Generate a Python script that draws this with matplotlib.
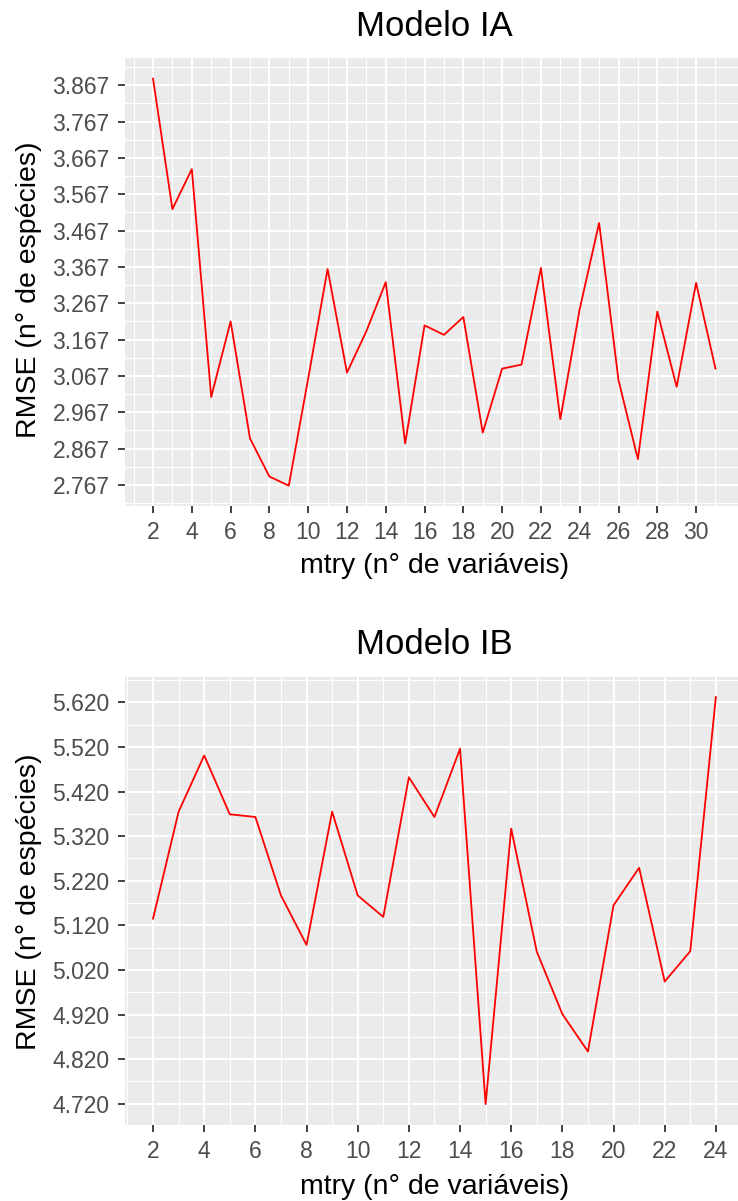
import numpy as np
import matplotlib
matplotlib.use('Agg')
import matplotlib.pyplot as plt

plt.rcParams['font.family'] = ['Liberation Sans', 'DejaVu Sans']

# Modelo IA: RMSE by mtry
mtry_ia = list(range(2, 32))
rmse_ia = [3.885, 3.526, 3.636, 3.009, 3.217, 2.895, 2.790, 2.765, 3.060, 3.361,
           3.076, 3.190, 3.325, 2.881, 3.206, 3.180, 3.229, 2.911, 3.087, 3.098,
           3.364, 2.948, 3.251, 3.488, 3.055, 2.838, 3.244, 3.037, 3.323, 3.087]
ia_xticks = [2, 4, 6, 8, 10, 12, 14, 16, 18, 20, 22, 24, 26, 28, 30]
ia_yticks = [2.767, 2.867, 2.967, 3.067, 3.167, 3.267, 3.367, 3.467,
             3.567, 3.667, 3.767, 3.867]

# Modelo IB: RMSE by mtry
mtry_ib = list(range(2, 25))
rmse_ib = [5.135, 5.375, 5.501, 5.369, 5.363, 5.187, 5.076, 5.375, 5.187, 5.139,
           5.452, 5.363, 5.516, 4.719, 5.337, 5.061, 4.921, 4.837, 5.165, 5.249,
           4.994, 5.062, 5.632]
ib_xticks = [2, 4, 6, 8, 10, 12, 14, 16, 18, 20, 22, 24]
ib_yticks = [4.720, 4.820, 4.920, 5.020, 5.120, 5.220, 5.320, 5.420, 5.520, 5.620]

W, H = 738, 1201
fig = plt.figure(figsize=(W / 100, H / 100), dpi=100)


def expand(vals, f=0.05):
    lo, hi = min(vals), max(vals)
    r = hi - lo
    return lo - f * r, hi + f * r


def midpoints(ticks, lim):
    step = ticks[1] - ticks[0]
    m = [ticks[0] - step / 2] + [t + step / 2 for t in ticks]
    return [v for v in m if lim[0] <= v <= lim[1]]


def panel(box, x, y, xticks, yticks, title, title_y, xlab_y, ylab_y):
    left, top, right, bottom = box
    ax = fig.add_axes([left / W, 1 - bottom / H, (right - left) / W, (bottom - top) / H])
    ax.set_facecolor('#EBEBEB')
    for s in ax.spines.values():
        s.set_visible(False)

    ax.plot(x, y, color='red', lw=1.3, zorder=3)

    xl = expand(x)
    yl = expand(y)
    ax.set_xlim(xl)
    ax.set_ylim(yl)
    ax.set_xticks(xticks)
    ax.set_yticks(yticks)
    ax.set_yticklabels(['%.3f' % v for v in yticks])
    ax.set_xticks(midpoints(xticks, xl), minor=True)
    ax.set_yticks(midpoints(yticks, yl), minor=True)

    # ggplot-like grey panel with white grid
    ax.grid(which='major', color='white', lw=1.5, zorder=0)
    ax.grid(which='minor', color='white', lw=0.8, zorder=0)
    ax.set_axisbelow(True)
    ax.tick_params(which='major', length=5, width=1.3, color='#333333',
                   labelsize=16.5, labelcolor='#4D4D4D')
    ax.tick_params(axis='x', which='major', pad=6)
    ax.tick_params(axis='y', which='major', pad=6)
    ax.tick_params(which='minor', length=0)

    cx = (left + right) / 2
    fig.text(cx / W, 1 - title_y / H, title, ha='center', va='center',
             fontsize=25, color='black')
    fig.text(cx / W, 1 - xlab_y / H, 'mtry (n° de variáveis)', ha='center',
             va='center', fontsize=20.5, color='black')
    fig.text(29 / W, 1 - ylab_y / H, 'RMSE (n° de espécies)', ha='center',
             va='center', rotation=90, fontsize=20.5, color='black')
    return ax


panel((124.9, 58.3, 743.6, 506), mtry_ia, rmse_ia, ia_xticks, ia_yticks,
      'Modelo IA', 26, 566, 290)
panel((124.9, 676.7, 744.0, 1124.5), mtry_ib, rmse_ib, ib_xticks, ib_yticks,
      'Modelo IB', 645, 1187, 902)

fig.savefig('out.png', dpi=100)
